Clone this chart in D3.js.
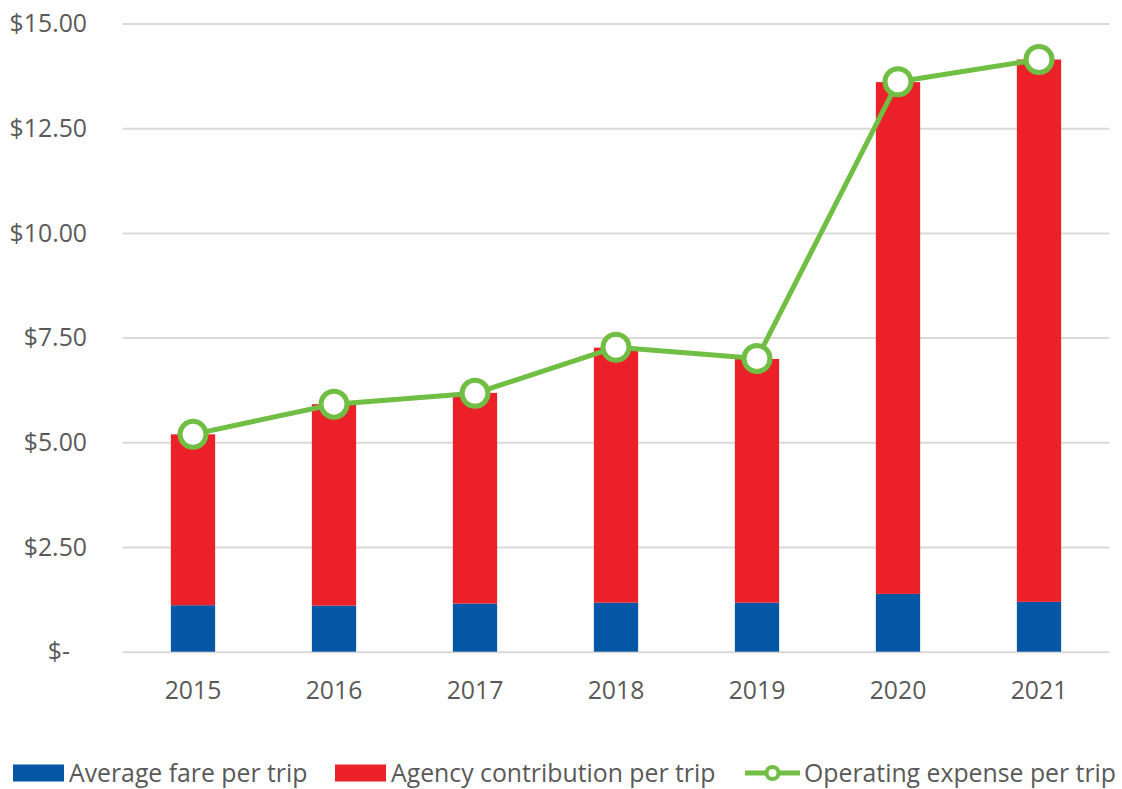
<!DOCTYPE html>
<html><head><meta charset="utf-8">
<script src="https://cdn.jsdelivr.net/npm/d3@7"></script>
<style>
body{margin:0;background:#fff;}
text{font-family:"Open Sans","Noto Sans",sans-serif;fill:#595959;}
</style></head><body>
<svg id="c" width="1122" height="789"></svg>
<script>
const years = ["2015","2016","2017","2018","2019","2020","2021"];
const avgFare = [1.11, 1.10, 1.15, 1.17, 1.17, 1.38, 1.19];
const agencyContribution = [4.08, 4.81, 5.03, 6.09, 5.82, 12.22, 12.95];
const operatingExpense = [5.19, 5.91, 6.17, 7.27, 7.00, 13.61, 14.14];
const yTicks = [0, 2.5, 5, 7.5, 10, 12.5, 15];
const seriesNames = ["Average fare per trip","Agency contribution per trip","Operating expense per trip"];

const svg = d3.select("#c");
const pLeft = 122.5, pRight = 1109.5, pTop = 23.5, pBottom = 651.7;
const x = d3.scalePoint().domain(years).range([pLeft, pRight]).padding(0.5);
const y = d3.scaleLinear().domain([0, 15]).range([pBottom, pTop]);
const barW = x.step() * 0.314;
const fs = 24.8;

// gridlines
const gy = svg.append("g").attr("transform", `translate(${pLeft},0)`)
  .call(d3.axisLeft(y).tickValues(yTicks).tickSize(-(pRight-pLeft)).tickFormat(""));
gy.select(".domain").remove();
gy.selectAll(".tick line").attr("stroke", "#d9d9d9").attr("stroke-width", 2);

// y labels
const fmt = d => d === 0 ? "$-" : "$" + d3.format(",.2f")(d);
svg.append("g").selectAll("text").data(yTicks).join("text")
  .attr("x", d => d === 0 ? 70 : 87).attr("y", d => y(d)).attr("dy", "0.35em")
  .attr("text-anchor", "end").attr("font-size", fs).text(fmt);

// x labels
svg.append("g").selectAll("text").data(years).join("text")
  .attr("x", d => x(d)).attr("y", 699).attr("text-anchor", "middle")
  .attr("font-size", fs).text(d => d);

// bars
const blue = "#0557a5", red = "#ec2028", green = "#70bf44";
svg.append("g").selectAll("rect").data(years).join("rect")
  .attr("x", d => x(d) - barW/2).attr("width", barW)
  .attr("y", (d,i) => y(avgFare[i])).attr("height", (d,i) => y(0) - y(avgFare[i]))
  .attr("fill", blue);
svg.append("g").selectAll("rect").data(years).join("rect")
  .attr("x", d => x(d) - barW/2).attr("width", barW)
  .attr("y", (d,i) => y(avgFare[i] + agencyContribution[i]))
  .attr("height", (d,i) => y(avgFare[i]) - y(avgFare[i] + agencyContribution[i]))
  .attr("fill", red);

// line
const line = d3.line().x((d,i) => x(years[i])).y(d => y(d));
svg.append("path").datum(operatingExpense).attr("d", line)
  .attr("fill", "none").attr("stroke", green).attr("stroke-width", 5).attr("stroke-linejoin", "round");
svg.append("g").selectAll("circle").data(operatingExpense).join("circle")
  .attr("cx", (d,i) => x(years[i])).attr("cy", d => y(d)).attr("r", 13)
  .attr("fill", "#fff").attr("stroke", green).attr("stroke-width", 5);

// legend
const lg = svg.append("g");
const ly = 773;
lg.append("rect").attr("x", 13).attr("y", ly-8.5).attr("width", 51).attr("height", 17).attr("fill", blue);
lg.append("text").attr("x", 69).attr("y", ly).attr("dy", "0.35em").attr("font-size", fs).text(seriesNames[0]);
lg.append("rect").attr("x", 335).attr("y", ly-8.5).attr("width", 51).attr("height", 17).attr("fill", red);
lg.append("text").attr("x", 391).attr("y", ly).attr("dy", "0.35em").attr("font-size", fs).text(seriesNames[1]);
lg.append("line").attr("x1", 745).attr("x2", 800).attr("y1", ly).attr("y2", ly).attr("stroke", green).attr("stroke-width", 5);
lg.append("circle").attr("cx", 772.5).attr("cy", ly).attr("r", 6).attr("fill", "#fff").attr("stroke", green).attr("stroke-width", 4);
lg.append("text").attr("x", 804).attr("y", ly).attr("dy", "0.35em").attr("font-size", fs).text(seriesNames[2]);
</script>
</body></html>
